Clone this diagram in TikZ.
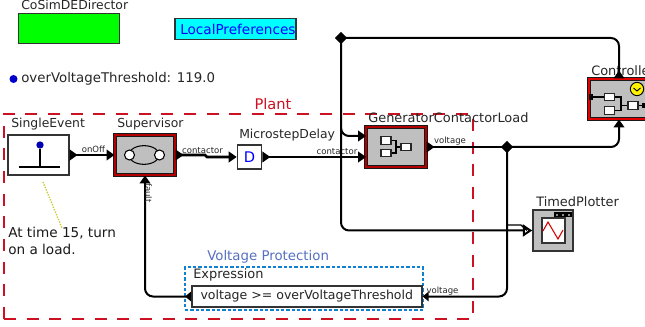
\documentclass[tikz,border=0pt]{standalone}
\usepackage{fontspec}
\setmainfont{DejaVu Sans}
\usetikzlibrary{arrows.meta}
\usetikzlibrary{positioning}
\usetikzlibrary{shapes.geometric}
\definecolor{plantred}{HTML}{CC1122}
\definecolor{protblue}{HTML}{5570C0}
\definecolor{dotblue}{HTML}{1080D0}
\definecolor{prefcyan}{HTML}{00FFFF}
\definecolor{dirgreen}{HTML}{00FF00}
\definecolor{noteline}{HTML}{C8C830}

\begin{document}
\begin{tikzpicture}[x=0.75pt,y=-0.75pt,
  title/.style={inner sep=0pt,font=\fontsize{9.7}{12}\selectfont,text=black!85},
  narrowtitle/.style={inner sep=0pt,font=\fontsize{9.3}{12}\selectfont,text=black!85},
  portlabel/.style={inner sep=1pt,font=\fontsize{6.4}{8}\selectfont,text=black!85},
  actor/.style={rectangle,draw=black!80,line width=1.2pt,inner sep=0pt},
  composite/.style={actor,fill=black!25,draw=black!90,line width=0.75pt,double=red!70!black,double distance=0.8pt},
  part/.style={rectangle,draw=black!85,fill=white,line width=1pt,inner sep=0pt,minimum width=7.5pt,minimum height=5.6pt},
  junction/.style={diamond,fill=black,inner sep=0pt,minimum width=9.5pt,minimum height=9.5pt},
  wire/.style={line width=1.5pt,rounded corners=6pt},
  link/.style={wire,{Triangle[reversed,length=6pt,width=8pt]}-{Triangle[length=6pt,width=8pt]}},
  inlink/.style={wire,-{Triangle[length=6pt,width=8pt]}},
  bus/.style={line width=2pt}]

  \useasboundingbox (0,0) rectangle (645,327);
  \clip (0,0) rectangle (645,327);

  % plant and protection frames
  \node[draw=plantred,line width=1.5pt,dash pattern=on 9pt off 8pt,inner sep=0pt,minimum width=352pt,minimum height=154pt] (plant) at (238.5,216.5) {};
  \node[inner sep=0pt,text=plantred,font=\fontsize{11}{13}\selectfont] (plantlabel) at (273,104) {Plant};
  \node[draw=dotblue,line width=1.5pt,dash pattern=on 2.4pt off 1.6pt,inner sep=0pt,minimum width=178.5pt,minimum height=31.5pt] (prot) at (304,288.5) {};
  \node[inner sep=0pt,text=protblue,font=\fontsize{10}{12}\selectfont,anchor=west] (protlabel) at (207,257) {Voltage Protection};

  % attributes
  \node[actor,fill=dirgreen,minimum width=75.5pt,minimum height=22.5pt] (director) at (69,28.5) {};
  \node[narrowtitle,anchor=west] (directorlabel) at (21,5) {CoSimDEDirector};
  \node[actor,fill=prefcyan,minimum width=90.5pt,minimum height=15.5pt] (prefs) at (235.5,29) {};
  \node[inner sep=0pt,text=blue,font=\fontsize{10.2}{12}\selectfont,anchor=west] (prefslabel) at (180,29) {LocalPreferences};
  \node[circle,fill=blue!80!black,inner sep=0pt,minimum size=6pt] (paramdot) at (13.5,79) {};
  \node[inner sep=0pt,font=\fontsize{10}{12}\selectfont,text=black!85,anchor=west] (param) at (21,78.5) {overVoltageThreshold: 119.0};

  % actors
  \node[actor,fill=white,minimum width=45.5pt,minimum height=30pt] (event) at (38.5,155) {};
  \node[narrowtitle,anchor=west] (eventlabel) at (11,124) {SingleEvent};
  \node[composite,minimum width=45pt,minimum height=30pt] (supervisor) at (145,155) {};
  \node[narrowtitle,anchor=west] (supervisorlabel) at (117,124) {Supervisor};
  \node[actor,fill=white,minimum width=18pt,minimum height=18pt,text=blue,font=\fontsize{11}{13}\selectfont] (delay) at (249.5,157) {D};
  \node[narrowtitle,anchor=west] (delaylabel) at (239,135) {MicrostepDelay};
  \node[composite,minimum width=45pt,minimum height=30pt] (load) at (396,147) {};
  \node[title,anchor=west] (loadlabel) at (368,118) {GeneratorContactorLoad};
  \node[composite,double=red!90!black,minimum width=45pt,minimum height=30pt] (controller) at (619,99) {};
  \node[title,anchor=west] (controllerlabel) at (591,71) {Controller};
  \node[actor,fill=black!25,minimum width=30pt,minimum height=30.5pt] (plotter) at (553,230.5) {};
  \node[title,anchor=west] (plotterlabel) at (536,202) {TimedPlotter};
  \node[title,anchor=west] (exprlabel) at (193,275) {Expression};
  \node[actor,fill=white,minimum width=172.5pt,minimum height=15.5pt,anchor=west,font=\fontsize{9.4}{12}\selectfont,text=black!85] (expr) at (191,296.5) {voltage >= overVoltageThreshold};

  % annotation
  \node[inner sep=0pt,anchor=north west,align=left,font=\fontsize{10.2}{13}\selectfont,text=black!90] (note) at (8,227) {At time 15, turn\\on a load.};
  \coordinate (notetip) at (62,228);
  \draw[draw=noteline,line width=1pt,densely dotted] (43,182) -- (notetip);

  % icons
  \node[circle,fill=blue!70!black,inner sep=0pt,minimum size=5.5pt] (eventdot) at (40,145) {};
  \draw[line width=1pt] (eventdot) -- (40,167);
  \draw[line width=1pt] (19,167) -- (60,167);
  \draw[line width=0.8pt] (144,155) ellipse (11.5pt and 7pt);
  \node[circle,draw=black,fill=white,line width=0.8pt,inner sep=0pt,minimum size=7.5pt] at (129.5,155) {};
  \node[circle,draw=black,fill=white,line width=0.8pt,inner sep=0pt,minimum size=7.5pt] at (159.5,155) {};

  \node[part] (loada) at (386,140.5) {};
  \node[part] (loadb) at (386,153) {};
  \node[part] (loadc) at (406,147) {};
  \draw[line width=0.8pt] (loada.east) -| (396,147) (loadb.east) -| (396,147) (396,147) -- (loadc.west);

  \node[part] (ctrla) at (609.5,97) {};
  \node[part] (ctrlb) at (609.5,110.5) {};
  \node[part] (ctrlc) at (633,105.5) {};
  \node[circle,draw=black,fill=yellow,line width=0.7pt,inner sep=0pt,minimum size=10pt] (clock) at (637,89) {};
  \draw[line width=0.7pt] (633.5,88) -- (637,91) -- (640.5,88);
  \fill (589,94) rectangle (593,100);
  \fill (642,103) rectangle (646,108);
  \draw[line width=0.8pt] (593,97) -- (ctrla.west) (ctrla.east) -| (621,105.5) (ctrlb.east) -| (621,105.5) (621,105.5) -- (ctrlc.west) (ctrlc.east) -- (642,105.5);

  \draw[line width=1.5pt,draw=black!80,fill=white] (541.5,218.5) rectangle (565,243);
  \draw[draw=red!85!black,line width=0.8pt] (543,231) -- (548,222) -- (558,239) -- (563,230);
  \foreach \bx in {555,561,567}
    \draw[line width=0.8pt,draw=black,fill=black!45] (\bx,213) rectangle ++(4,3.5);

  % junctions and connection points
  \node[junction] (top) at (341,38) {};
  \node[junction] (volt) at (507,147) {};
  \coordinate (loadtop) at (366,136);
  \coordinate (loadbot) at (366,157);
  \coordinate (plotin) at (plotter.west);
  \coordinate (plotbranch) at (507,225);

  % connections
  \path (event.east) edge [link,bus] node [portlabel,above,pos=0.53] {onOff} (supervisor.west);
  \draw[link,bus,rounded corners=0pt] (supervisor.east) -- (205,155) -- (207,157) -- (delay.west);
  \node[portlabel] (contactora) at (202.5,151) {contactor};
  \path (delay.east) edge [link,bus] node [portlabel,above,pos=0.72] {contactor} (loadbot);

  \draw[wire,{Triangle[reversed,length=6pt,width=8pt]}-] (controller.north) -- (619,38) -- (top.center);
  \draw[inlink] (341,130) |- (loadtop);
  \draw[wire,-{Triangle[open,fill=white,length=7pt,width=9pt]}] (top.center) -- (341,230.5) -- (plotin);
  \draw[line width=1pt] (plotbranch) -- (521,225) -- (527,230.5);

  \draw[{Triangle[reversed,length=6pt,width=8pt]}-,bus] (load.east) -- (volt.center);
  \node[portlabel] (voltagea) at (450,141) {voltage};
  \draw[inlink] (volt.center) -- (619,147) -- (controller.south);
  \draw[wire,-{Triangle[length=4.5pt,width=7pt]}] (volt.center) -- (507,296.5) -- (expr.east);
  \node[portlabel] (voltageb) at (442.5,291) {voltage};
  \draw[wire,{Triangle[reversed,length=4.5pt,width=7pt]}-{Triangle[length=6pt,width=8pt]}] (expr.west) -- (145,296.5) -- (supervisor.south);
  \node[portlabel,rotate=-90] (fault) at (148.5,193) {fault};
\end{tikzpicture}
\end{document}
